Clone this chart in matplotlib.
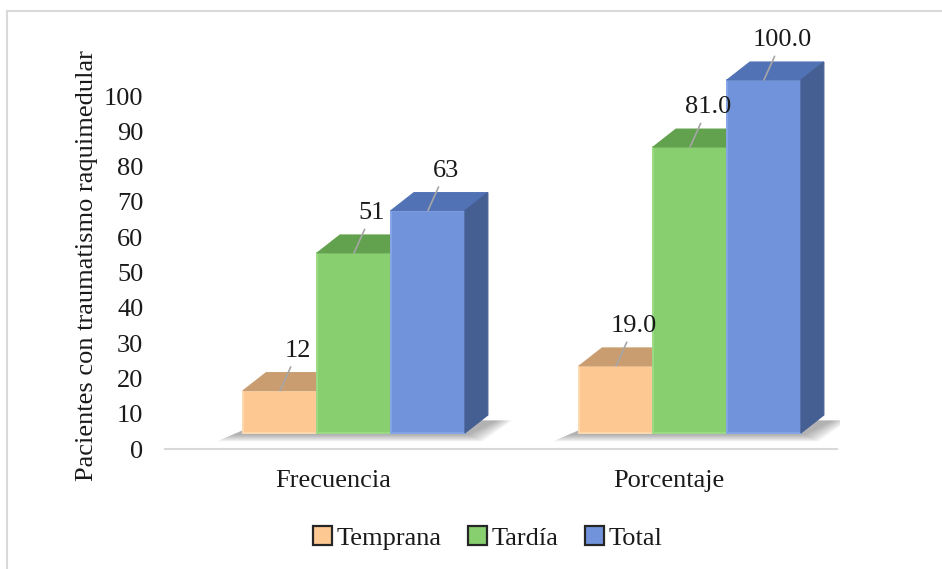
import matplotlib.pyplot as plt
from matplotlib.patches import Polygon, Patch
from matplotlib.lines import Line2D

plt.rcParams['font.family'] = ['Liberation Serif', 'DejaVu Serif']

categories = ['Frecuencia', 'Porcentaje']
series = ['Temprana', 'Tardía', 'Total']
temprana = [12, 19.0]
tardia = [51, 81.0]
total = [63, 100.0]
label_fmt = ['{:.0f}', '{:.1f}']

# front / top / side / rim shades for each series
colors = {
    'Temprana': ('#FDC891', '#C99D70', '#B58B60', '#FFD8AE'),
    'Tardía': ('#88CF70', '#62A14E', '#4F8A3E', '#9ADB84'),
    'Total': ('#7093DB', '#5272B6', '#465F93', '#85A5E6'),
}
FS = 19

W, H = 942, 569
fig = plt.figure(figsize=(W / 100, H / 100), dpi=100)

# axes geometry in pixels
px_left, px_right, px_zero, px_top = 160, 840, 449, 30
px_per_unit_y = 3.53
px_per_cat = 336
ax = fig.add_axes([px_left / W, (H - px_zero) / H,
                   (px_right - px_left) / W, (px_zero - px_top) / H])
x0_px = 354
ax.set_xlim(-(x0_px - px_left) / px_per_cat, (px_right - x0_px) / px_per_cat)
ax.set_ylim(0, (px_zero - px_top) / px_per_unit_y)
for s in ax.spines.values():
    s.set_visible(False)

bar_w = 0.22
dx = 23 / px_per_cat
dy = 18 / px_per_unit_y
base = 16 / px_per_unit_y


def draw_bar(x, h, front, top, side, rim):
    y0, y1 = base, base + h
    ax.add_patch(Polygon([(x, y0), (x + bar_w, y0), (x + bar_w, y1), (x, y1)],
                         closed=True, facecolor=front, edgecolor=rim, lw=1.4, zorder=3))
    ax.add_patch(Polygon([(x, y1), (x + bar_w, y1), (x + bar_w + dx, y1 + dy), (x + dx, y1 + dy)],
                         closed=True, facecolor=top, edgecolor=top, lw=0.8, zorder=3))
    ax.add_patch(Polygon([(x + bar_w, y0), (x + bar_w + dx, y0 + dy), (x + bar_w + dx, y1 + dy),
                          (x + bar_w, y1)],
                         closed=True, facecolor=side, edgecolor=side, lw=0.8, zorder=3))


groups = [temprana, tardia, total]
for ci, cat in enumerate(categories):
    left = ci - 1.5 * bar_w
    right = ci + 1.5 * bar_w
    # soft shadow on the floor, built from stacked translucent layers
    for k in range(8):
        g = 0.006 * (7 - k)
        gy = 0.25 * (7 - k)
        ax.add_patch(Polygon([(left - 0.035 - g, base - 0.6 - gy),
                              (right + 0.01 + g, base - 0.6 - gy),
                              (right + dx + 0.03 + g, base + dy * 0.7),
                              (left + dx, base + dy * 0.7)],
                             closed=True, facecolor='#404040', edgecolor='none',
                             alpha=0.06, zorder=2))
    for si, name in enumerate(series):
        v = groups[si][ci]
        x = ci + (si - 1.5) * bar_w
        draw_bar(x, v, *colors[name])
        ax.annotate(label_fmt[ci].format(v), xy=(x + bar_w / 2, base + v),
                    xytext=(18, 40), textcoords='offset pixels',
                    ha='center', va='center', fontsize=FS, color='#1A1A1A', zorder=5,
                    arrowprops=dict(arrowstyle='-', color='#A6A6A6', lw=1.2,
                                    shrinkA=2, shrinkB=0))

# front edge of the floor
ax.plot([-0.5625, 1.4375], [0, 0], color='#D9D9D9', lw=1.5, zorder=1, clip_on=False)

ax.set_yticks(range(0, 101, 10))
ax.tick_params(axis='y', length=0, pad=12, labelsize=FS, labelcolor='#1A1A1A')
ax.set_xticks([i - 0.0625 for i in range(len(categories))])
ax.set_xticklabels(categories)
ax.tick_params(axis='x', length=0, pad=15, labelsize=FS, labelcolor='#1A1A1A')

fig.text(87 / W, 1 - 266 / H, 'Pacientes con traumatismo raquimedular',
         rotation=90, ha='center', va='center', fontsize=FS, color='#1A1A1A')

handles = [Patch(facecolor=colors[n][0], edgecolor='#262626', lw=1.6) for n in series]
fig.legend(handles, series, loc='center', bbox_to_anchor=(488 / W, 1 - 538 / H),
           ncol=3, frameon=False, fontsize=FS, handlelength=0.7, handleheight=0.7,
           handletextpad=0.2, columnspacing=1.0, labelcolor='#1A1A1A')

# chart area border
fig.add_artist(Line2D([7 / W, 7 / W], [0, 1 - 11 / H], transform=fig.transFigure,
                      color='#D9D9D9', lw=1.5))
fig.add_artist(Line2D([7 / W, 1], [1 - 11 / H, 1 - 11 / H], transform=fig.transFigure,
                      color='#D9D9D9', lw=1.5))

fig.savefig('out.png', dpi=100)
